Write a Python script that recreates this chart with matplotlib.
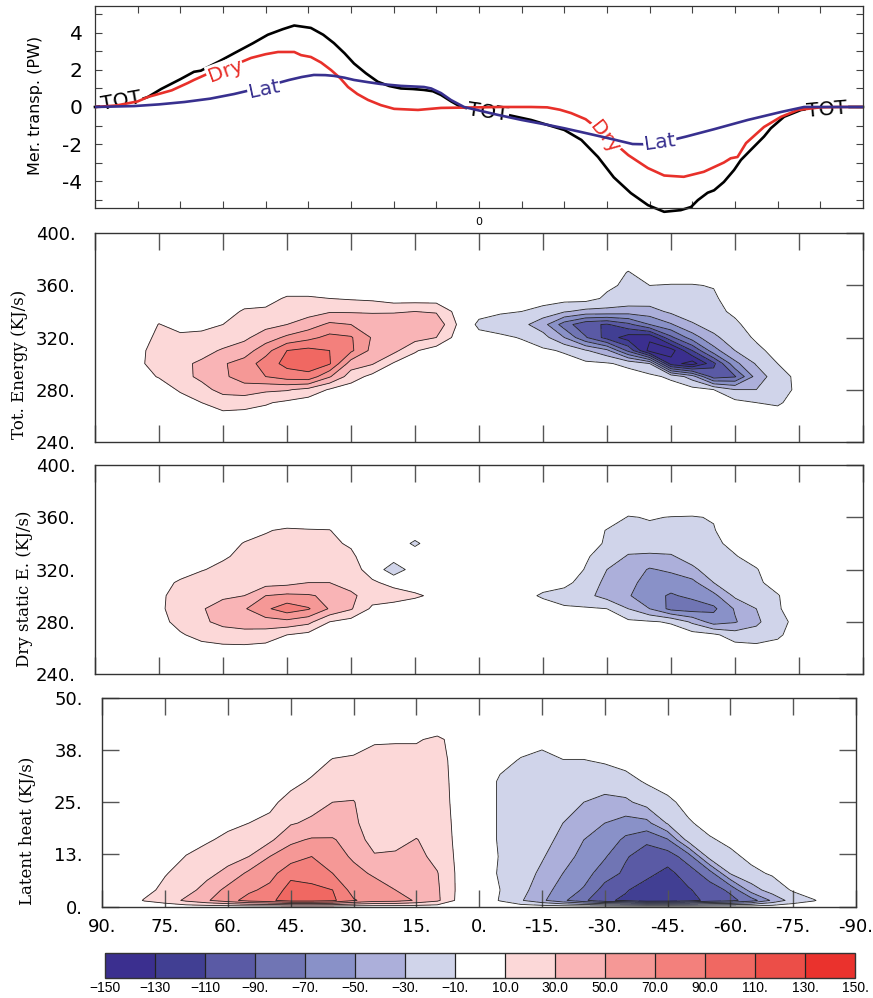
import numpy as np
import matplotlib.pyplot as plt
from matplotlib.colors import ListedColormap, BoundaryNorm
from matplotlib.cm import ScalarMappable

# ---- meridional energy transport (PW) ----
tot_lat = [90, 85, 80, 77.6, 74.5, 70, 66.8, 65.2, 61, 57.4, 53, 49.5, 46, 43.3, 39.4,
           36.5, 34, 31.5, 29.3, 26.5, 23.7, 21, 18.3, 15.5, 12.9, 10.8, 8.9, 6.5, 4.2, 0,
           -6.8, -12.2, -20, -24, -27.9, -31.6, -35.6, -39.6, -43.4, -47.3, -49.7, -51.3,
           -53.6, -55.1, -57.4, -59.8, -61.4, -63.7, -66.8, -68.4, -71.5, -75.5, -80, -85, -90]
tot_pw = [0, 0.12, 0.35, 0.54, 0.97, 1.5, 1.9, 1.96, 2.45, 2.9, 3.44, 3.9, 4.2, 4.4, 4.27,
          3.9, 3.45, 2.9, 2.35, 1.82, 1.36, 1.13, 1.0, 0.97, 0.92, 0.85, 0.65, 0.3, 0.0, -0.2,
          -0.43, -0.7, -1.24, -1.78, -2.7, -3.8, -4.65, -5.3, -5.66, -5.57, -5.4, -5.03,
          -4.63, -4.5, -4.05, -3.4, -2.86, -2.32, -1.6, -1.15, -0.53, -0.16, -0.03, 0, 0]

dry_lat = [90, 85, 80, 77.6, 72, 68.2, 66.8, 64, 60, 56, 53.4, 50, 47.1, 43.3, 41.7,
           39.4, 37, 34.7, 32.5, 30.7, 28.5, 26, 23, 19.9, 14.3, 8.9, 0, -5, -12.2, -16,
           -19, -21.6, -25, -28, -31.5, -35, -39.6, -43.4, -48, -52.7, -57.4, -59, -60.6,
           -62.6, -66.8, -70.8, -74.8, -80, -85, -90]
dry_pw = [0, 0.08, 0.3, 0.54, 0.9, 1.3, 1.46, 1.75, 2.1, 2.4, 2.65, 2.85, 2.97, 2.97, 2.8,
          2.7, 2.4, 2.0, 1.55, 1.08, 0.7, 0.38, 0.1, -0.1, -0.16, -0.05, -0.02, 0.0, 0.0, -0.02,
          -0.15, -0.33, -0.66, -1.2, -1.9, -2.6, -3.3, -3.7, -3.77, -3.5, -3.0, -2.77, -2.7,
          -1.95, -1.08, -0.53, -0.16, -0.02, 0, 0]

lat_lat = [90, 80.8, 75, 69, 63, 57.4, 51, 44.5, 41.5, 38.7, 36, 34, 31.5, 29.3, 26,
           23, 18.3, 12.9, 11.2, 8.9, 6.6, 3.5, -4.5, -10, -16.2, -20, -23.9, -30.2, -36,
           -40, -44, -48.5, -55.1, -63, -70.8, -76.2, -80, -90]
lat_pw = [0, 0.05, 0.14, 0.27, 0.45, 0.7, 1.05, 1.46, 1.62, 1.73, 1.72, 1.68, 1.58, 1.46, 1.34,
          1.24, 1.14, 1.08, 1.0, 0.75, 0.38, 0.0, -0.43, -0.7, -0.97, -1.15, -1.35, -1.68, -2.0,
          -2.02, -1.85, -1.6, -1.2, -0.7, -0.27, 0.0, 0.0, 0.0]

# ---- gridded fields: one row per latitude (90N -> 90S, every 5 deg) ----
lats = np.arange(90, -91, -5)
theta = [250, 260, 270, 280, 290, 300, 310, 320, 330, 340, 350, 360, 370, 380]
latent_y = [0, 1.5, 4, 8, 12, 16, 20, 25, 30, 35, 40, 45]

tot_field = [
    [0, 0, 0, 0, 0, 0, 0, 0, 0, 0, 0, 0, 0, 0],            # 90
    [0, 0, 0, 0, 0, 0, 0, 0, 0, 0, 0, 0, 0, 0],            # 85
    [0, 0, 0, 0, 4, 6, 5, 0, 0, 0, 0, 0, 0, 0],            # 80
    [0, 0, 0, 2, 11, 18, 18, 15, 10.5, 2, 0, 0, 0, 0],     # 75
    [0, 0, 3, 12, 24, 26, 20, 13, 5, 0, 0, 0, 0, 0],       # 70
    [0, 0, 10, 24, 34, 33, 24, 14, 6, 0, 0, 0, 0, 0],      # 65
    [0, 4, 20, 36, 46, 48, 32, 20, 10, 3, 0, 0, 0, 0],     # 60
    [0, 3, 18, 40, 60, 58, 40, 26, 18, 12, 2, 0, 0, 0],    # 55
    [0, 2, 12, 34, 70, 80, 62, 40, 24, 13, 4, 0, 0, 0],    # 50
    [0, 0, 6, 32, 80, 96, 90, 54, 30, 18, 12, 0, 0, 0],    # 45
    [0, 0, 0, 24, 84, 100, 96, 64, 40, 22, 12, 0, 0, 0],   # 40
    [0, 0, 0, 8, 52, 92, 90, 76, 54, 28, 10, 0, 0, 0],     # 35
    [0, 0, 0, 0, 20, 40, 74, 72, 50, 28, 8, 0, 0, 0],      # 30
    [0, 0, 0, 0, 4, 32, 44, 48, 42, 28, 6, 0, 0, 0],       # 25
    [0, 0, 0, 0, 0, 8, 36, 46, 44, 28, 0, 0, 0, 0],        # 20
    [0, 0, 0, 0, 0, 0, 12, 38, 48, 30, 0, 0, 0, 0],        # 15
    [0, 0, 0, 0, 0, 0, 0, 30, 44, 28, 0, 0, 0, 0],         # 10
    [0, 0, 0, 0, 0, 0, 0, 2, 8, 3, 0, 0, 0, 0],            # 5
    [0, 0, 0, 0, 0, 0, 0, -4, -14, -4, 0, 0, 0, 0],        # 0
    [0, 0, 0, 0, 0, 0, 0, -7, -18, -8, 0, 0, 0, 0],        # -5
    [0, 0, 0, 0, 0, 0, -4, -11, -24, -10, 0, 0, 0, 0],     # -10
    [0, 0, 0, 0, 0, 0, -7, -22, -42, -18, 0, 0, 0, 0],     # -15
    [0, 0, 0, 0, 0, -3, -12, -50, -80, -28, -3, 0, 0, 0],  # -20
    [0, 0, 0, 0, 0, -6, -28, -88, -105, -36, -2, 0, 0, 0], # -25
    [0, 0, 0, 0, -2, -8, -45, -118, -112, -36, -14, -6, 0, 0],      # -30
    [0, 0, 0, 0, -1, -15, -95, -140, -95, -40, -16, -14, -11, 0],   # -35
    [0, 0, 0, 0, -5, -30, -158, -146, -70, -38, -18, -10, 0, 0],    # -40
    [0, 0, 0, 0, -14, -140, -160, -95, -52, -26, -16, -11, 0, 0],   # -45
    [0, 0, 0, -3, -40, -160, -110, -60, -32, -20, -15, -11, 0, 0],  # -50
    [0, 0, 0, -10, -100, -115, -58, -34, -22, -16, -13, -9, 0, 0],  # -55
    [0, 0, -4, -30, -92, -56, -30, -20, -14, -6, 0, 0, 0, 0],       # -60
    [0, 0, -10, -30, -42, -28, -15, -7, 0, 0, 0, 0, 0, 0],          # -65
    [0, -4, -12, -18, -18, -10, -3, 0, 0, 0, 0, 0, 0, 0],           # -70
    [0, 0, -4, -6, -5, 0, 0, 0, 0, 0, 0, 0, 0, 0],                  # -75
    [0, 0, 0, 0, 0, 0, 0, 0, 0, 0, 0, 0, 0, 0],            # -80
    [0, 0, 0, 0, 0, 0, 0, 0, 0, 0, 0, 0, 0, 0],            # -85
    [0, 0, 0, 0, 0, 0, 0, 0, 0, 0, 0, 0, 0, 0],            # -90
]

dry_field = [
    [0, 0, 0, 0, 0, 0, 0, 0, 0, 0, 0, 0, 0, 0],            # 90
    [0, 0, 0, 0, 0, 0, 0, 0, 0, 0, 0, 0, 0, 0],            # 85
    [0, 0, 0, 0, 0, 0, 0, 0, 0, 0, 0, 0, 0, 0],            # 80
    [0, 0, 0, 4, 6, 6, 5, 0, 0, 0, 0, 0, 0, 0],            # 75
    [0, 0, 8, 16, 20, 18, 12, 4, 0, 0, 0, 0, 0, 0],        # 70
    [0, 4, 16, 26, 28, 24, 18, 9, 2, 0, 0, 0, 0, 0],       # 65
    [0, 6, 20, 36, 40, 26, 20, 14, 8, 2, 0, 0, 0, 0],      # 60
    [0, 6, 22, 40, 48, 30, 22, 18, 14, 11, 2, 0, 0, 0],    # 55
    [0, 4, 20, 42, 66, 50, 22, 20, 16, 13, 9, 0, 0, 0],    # 50
    [0, 0, 10, 44, 82, 54, 24, 20, 17, 14, 12, 0, 0, 0],   # 45
    [0, 0, 4, 36, 72, 52, 30, 21, 17, 14, 11, 0, 0, 0],    # 40
    [0, 0, 0, 10, 48, 46, 30, 20, 16, 13, 10.5, 0, 0, 0],  # 35
    [0, 0, 0, 2, 32, 34, 22, 16, 13, 8, 0, 0, 0, 0],       # 30
    [0, 0, 0, 0, 6, 20, 12, 4, 0, 0, 0, 0, 0, 0],          # 25
    [0, 0, 0, 0, 4, 16, 6, -22, 0, 0, 0, 0, 0, 0],         # 20
    [0, 0, 0, 0, 2, 12, 3, 0, 0, -13, 0, 0, 0, 0],         # 15
    [0, 0, 0, 0, 0, 7, 0, 0, 0, 0, 0, 0, 0, 0],            # 10
    [0, 0, 0, 0, 0, 0, 0, 0, 0, 0, 0, 0, 0, 0],            # 5
    [0, 0, 0, 0, 0, 0, 0, 0, 0, 0, 0, 0, 0, 0],            # 0
    [0, 0, 0, 0, 0, 0, 0, 0, 0, 0, 0, 0, 0, 0],            # -5
    [0, 0, 0, 0, 0, -5, 0, 0, 0, 0, 0, 0, 0, 0],           # -10
    [0, 0, 0, 0, -3, -12, -4, 0, 0, 0, 0, 0, 0, 0],        # -15
    [0, 0, 0, 0, -8, -16, -6, 0, 0, 0, 0, 0, 0, 0],        # -20
    [0, 0, 0, 0, -8, -24, -16, -11, -8, 0, 0, 0, 0, 0],    # -25
    [0, 0, 0, 0, -10, -38, -36, -30, -18, -13, -11, 0, 0, 0],        # -30
    [0, 0, 0, -6, -30, -48, -44, -38, -32, -20, -14, -11, 0, 0],     # -35
    [0, 0, 0, -8, -50, -64, -58, -52, -34, -18, -13, -9, 0, 0],      # -40
    [0, 0, 0, -12, -76, -72, -62, -46, -32, -20, -14, -10.5, 0, 0],  # -45
    [0, 0, -2, -34, -80, -66, -56, -34, -22, -16, -13, -11, 0, 0],   # -50
    [0, 0, -6, -60, -74, -56, -30, -20, -15, -13, -11, -9, 0, 0],    # -55
    [0, -2, -20, -52, -48, -26, -18, -14, -11, -6, 0, 0, 0, 0],      # -60
    [0, -4, -22, -34, -30, -18, -13, -11, -4, 0, 0, 0, 0, 0],        # -65
    [0, -6, -12, -16, -12, -11, -4, 0, 0, 0, 0, 0, 0, 0],            # -70
    [0, 0, -4, -4, 0, 0, 0, 0, 0, 0, 0, 0, 0, 0],          # -75
    [0, 0, 0, 0, 0, 0, 0, 0, 0, 0, 0, 0, 0, 0],            # -80
    [0, 0, 0, 0, 0, 0, 0, 0, 0, 0, 0, 0, 0, 0],            # -85
    [0, 0, 0, 0, 0, 0, 0, 0, 0, 0, 0, 0, 0, 0],            # -90
]

latent_field = [
    [0, 0, 0, 0, 0, 0, 0, 0, 0, 0, 0, 0],                  # 90
    [0, 0, 0, 0, 0, 0, 0, 0, 0, 0, 0, 0],                  # 85
    [0, 11, 5, 0, 0, 0, 0, 0, 0, 0, 0, 0],                 # 80
    [0, 18, 14, 9, 2, 0, 0, 0, 0, 0, 0, 0],                # 75
    [0, 34, 22, 16, 10.5, 4, 0, 0, 0, 0, 0, 0],            # 70
    [0, 48, 38, 24, 17, 8, 2, 0, 0, 0, 0, 0],              # 65
    [0, 62, 56, 36, 22, 14, 6, 0, 0, 0, 0, 0],             # 60
    [0, 78, 66, 54, 30, 20, 10, 2, 0, 0, 0, 0],            # 55
    [0, 86, 76, 62, 50, 26, 14, 6, 0, 0, 0, 0],            # 50
    [0, 100, 98, 84, 60, 46, 28, 16, 5, 0, 0, 0],          # 45
    [0, 100, 96, 80, 70, 52, 34, 22, 12, 3, 0, 0],         # 40
    [0, 94, 90, 70, 56, 52, 36, 30, 18, 11, 0, 0],         # 35
    [0, 72, 62, 54, 48, 40, 34, 31, 20, 12, 4, 0],         # 30
    [0, 60, 56, 48, 32, 22, 18, 16, 15, 13, 9, 0],         # 25
    [0, 58, 50, 40, 34, 22, 18, 16, 15, 14, 9, 0],         # 20
    [0, 48, 44, 40, 36, 31, 20, 16, 15, 14, 9, 0],         # 15
    [0, 34, 33, 31, 24, 20, 18, 16, 15, 14, 12, 0],        # 10
    [0, 5, 6, 6, 6, 6, 6, 6, 6, 6, 6, 0],                  # 5
    [0, 0, 0, 0, 0, 0, 0, 0, 0, 0, 0, 0],                  # 0
    [0, -11, -10, -12, -11, -12, -12, -12, -12, -6, 0, 0],           # -5
    [0, -28, -24, -20, -18, -16, -15, -14, -13, -11, -4, 0],         # -10
    [0, -46, -40, -34, -28, -22, -18, -16, -14, -12, -8, 0],         # -15
    [0, -66, -60, -50, -42, -36, -30, -22, -16, -10.5, 0, 0],        # -20
    [0, -86, -72, -62, -56, -50, -40, -30, -20, -10.5, 0, 0],        # -25
    [0, -106, -98, -80, -68, -58, -50, -36, -20, -8, 0, 0],          # -30
    [0, -114, -108, -94, -88, -74, -58, -34, -16, -4, 0, 0],         # -35
    [0, -126, -120, -104, -100, -86, -56, -22, -8, 0, 0, 0],         # -40
    [0, -124, -122, -116, -100, -72, -28, -14, -2, 0, 0, 0],         # -45
    [0, -118, -112, -100, -80, -22, -12, -4, 0, 0, 0, 0],            # -50
    [0, -104, -100, -80, -22, -12, -4, 0, 0, 0, 0, 0],               # -55
    [0, -96, -86, -28, -14, -6, 0, 0, 0, 0, 0, 0],                   # -60
    [0, -80, -40, -14, -6, 0, 0, 0, 0, 0, 0, 0],                     # -65
    [0, -46, -20, -8, 0, 0, 0, 0, 0, 0, 0, 0],                       # -70
    [0, -20, -8, 0, 0, 0, 0, 0, 0, 0, 0, 0],                         # -75
    [0, -11, 0, 0, 0, 0, 0, 0, 0, 0, 0, 0],                          # -80
    [0, 0, 0, 0, 0, 0, 0, 0, 0, 0, 0, 0],                  # -85
    [0, 0, 0, 0, 0, 0, 0, 0, 0, 0, 0, 0],                  # -90
]

levels = np.arange(-150, 151, 20)
level_labels = ["\u2212150", "\u2212130", "\u2212110", "\u221290.", "\u221270.", "\u221250.",
                "\u221230.", "\u221210.", "10.0", "30.0", "50.0", "70.0", "90.0", "110.",
                "130.", "150."]
band_colors = ["#3b2f8f", "#413f93", "#5a5aa5", "#7075b4", "#8991c8", "#acafda", "#d0d4ea",
               "#ffffff", "#fcd8d8", "#f9b4b6", "#f59896", "#f3807c", "#f06862", "#ec4e48",
               "#ea322d"]

cmap = ListedColormap(band_colors)
cmap.set_under(band_colors[0])
cmap.set_over(band_colors[-1])
norm = BoundaryNorm(levels, cmap.N)

RED = "#e8302a"
BLUE = "#38308f"
TICKC = "#555555"

fig = plt.figure(figsize=(8.73, 9.98), dpi=100)

# ---------------- transport curves ----------------
ax0 = fig.add_axes([0.1088, 0.7913, 0.8797, 0.2030])
ax0.plot(tot_lat, tot_pw, color="black", lw=1.9, zorder=2, clip_on=False)
ax0.plot(dry_lat, dry_pw, color=RED, lw=1.9, zorder=3)
ax0.plot(lat_lat, lat_pw, color=BLUE, lw=1.9, zorder=4)

lab_box = dict(boxstyle="square,pad=0.05", fc="white", ec="none")
line_labels = [
    ("TOT", 83.9, 0.32, 10, "black", 2.5),
    ("TOT", -2.1, -0.27, -8, "black", 2.5),
    ("TOT", -81.6, -0.16, 5, "black", 2.5),
    ("Dry", 59.5, 1.95, 20, RED, 3.5),
    ("Dry", -29.5, -1.62, -52, RED, 3.5),
    ("Lat", 50.4, 0.97, 12, BLUE, 4.5),
    ("Lat", -42.4, -1.9, 8, BLUE, 4.5),
]
for txt, x, y, rot, col, z in line_labels:
    ax0.text(x, y, txt, color=col, fontsize=14.5, rotation=rot, ha="center", va="center",
             rotation_mode="anchor", bbox=lab_box, zorder=z)

ax0.set_xlim(90, -90)
ax0.set_ylim(-5.47, 5.47)
ax0.set_xticks(np.arange(-90, 91, 10))
ax0.set_xticklabels(["0" if v == 0 else "" for v in np.arange(-90, 91, 10)], fontsize=8)
ax0.set_yticks([-4, -2, 0, 2, 4])
ax0.set_yticklabels(["-4", "-2", "0", "2", "4"], fontsize=14.5)
ax0.set_yticks([-5, -3, -1, 1, 3, 5], minor=True)
ax0.tick_params(which="both", direction="in", length=5, width=0.8, top=True, right=True,
                color="#444444")
ax0.tick_params(axis="y", pad=9)
ax0.tick_params(axis="x", pad=6)
for s in ax0.spines.values():
    s.set_linewidth(0.9)
    s.set_color("#333333")
fig.text(0.0412, 0.8948, "Mer. transp. (PW)", rotation=90, ha="center", va="center",
         fontsize=11.5)

# ---------------- contour panels ----------------
def draw_field(ax, field, yvals):
    z = np.array(field, dtype=float).T
    ax.contourf(lats, yvals, z, levels=levels, cmap=cmap, norm=norm, extend="both")
    ax.contour(lats, yvals, z, levels=levels, colors="#222222", linewidths=0.6,
               linestyles="solid")
    ax.set_xlim(90, -90)
    ax.set_xticks(np.arange(90, -91, -15))
    ax.tick_params(axis="x", direction="in", length=12, width=1, top=True, bottom=True,
                   color=TICKC)
    for s in ax.spines.values():
        s.set_linewidth(1.0)
        s.set_color("#333333")


ax1 = fig.add_axes([0.1088, 0.5574, 0.8797, 0.2088])
draw_field(ax1, tot_field, theta)
ax2 = fig.add_axes([0.1088, 0.3246, 0.8797, 0.2094])
draw_field(ax2, dry_field, theta)
for ax in (ax1, ax2):
    ax.set_ylim(240, 400)
    ax.set_yticks([240, 280, 320, 360, 400])
    ax.set_yticklabels(["240.", "280.", "320.", "360.", "400."], fontsize=13)
    ax.tick_params(axis="y", direction="in", length=12, width=1, left=False, right=True,
                   color=TICKC, pad=14)
    ax.set_xticklabels([])

ax3 = fig.add_axes([0.1172, 0.0915, 0.8633, 0.2094])
draw_field(ax3, latent_field, latent_y)
ax3.set_ylim(0, 50)
ax3.set_yticks([0, 12.5, 25, 37.5, 50])
ax3.set_yticklabels(["0.", "13.", "25.", "38.", "50."], fontsize=13)
ax3.tick_params(axis="y", direction="in", length=12, width=1, left=True, right=True,
                color=TICKC, pad=14)
ax3.set_xticklabels([f"{v}." for v in np.arange(90, -91, -15)], fontsize=13)
ax3.tick_params(axis="x", pad=8)

ylab_font = dict(family="DejaVu Serif", fontsize=12, rotation=90, ha="center", va="center")
fig.text(0.0229, 0.635, "Tot. Energy (KJ/s)", **ylab_font)
fig.text(0.0286, 0.4098, "Dry static E. (KJ/s)", **ylab_font)
fig.text(0.032, 0.1673, "Latent heat (KJ/s)", **ylab_font)

# ---------------- colour bar ----------------
cax = fig.add_axes([0.1203, 0.020, 0.8591, 0.025])
sm = ScalarMappable(norm=norm, cmap=cmap)
cb = fig.colorbar(sm, cax=cax, orientation="horizontal", drawedges=True, ticks=levels,
                  extend="neither")
cb.set_ticklabels(level_labels)
cb.ax.tick_params(length=0, pad=2, labelsize=10)
for t in cb.ax.get_xticklabels():
    t.set_fontfamily("Liberation Sans")
cb.outline.set_linewidth(1.0)
cb.outline.set_edgecolor("#333333")
cb.dividers.set_color("#222222")
cb.dividers.set_linewidth(0.9)

fig.savefig("out.png", dpi=100, facecolor="white")
